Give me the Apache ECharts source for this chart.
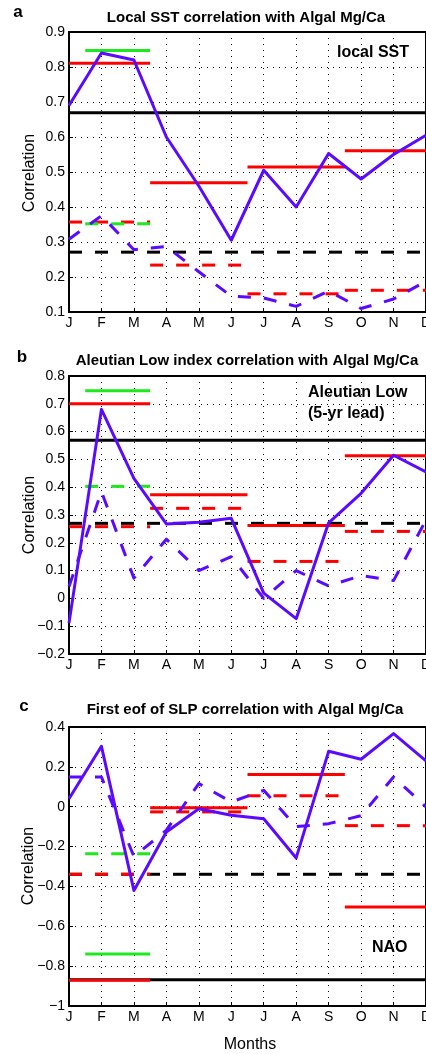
<!DOCTYPE html>
<html>
<head>
    <meta charset="UTF-8">
    <title>Algal Mg/Ca correlations</title>
    <script src="https://cdn.jsdelivr.net/npm/echarts@6/dist/echarts.min.js"></script>
    <style>
        html, body {margin: 0; padding: 0; background: #fff;}
        #main {width: 426px; height: 1054px;}
    </style>
</head>
<body>
<div id="main"></div>
<script type="text/javascript">

    var months = ['J', 'F', 'M', 'A', 'M', 'J', 'J', 'A', 'S', 'O', 'N', 'D'];
    // season boundaries (month index) for the red bars, green bars start half a month later
    var seasonEdges = [0, 2.5, 5.5, 8.5, 11];
    var greenEdges = [0.5, 2.5];

    // a: local SST
    var sstSolid = [0.69, 0.84, 0.82, 0.60, 0.46, 0.305, 0.505, 0.40, 0.553, 0.48, 0.55, 0.605];
    var sstDashed = [0.308, 0.375, 0.278, 0.287, 0.215, 0.145, 0.14, 0.116, 0.16, 0.11, 0.137, 0.188];
    var sstRedSolid = [0.811, 0.469, 0.514, 0.561];
    var sstRedDashed = [0.357, 0.234, 0.152, 0.162];
    var sstGreen = [0.847, 0.352];   // solid, dashed
    var sstSig = [0.669, 0.271];     // solid, dashed

    // b: Aleutian Low
    var alSolid = [-0.089, 0.68, 0.432, 0.268, 0.274, 0.288, 0.019, -0.073, 0.272, 0.378, 0.515, 0.455];
    var alDashed = [0.043, 0.384, 0.073, 0.213, 0.10, 0.15, 0.0, 0.10, 0.045, 0.082, 0.064, 0.282];
    var alRedSolid = [0.70, 0.373, 0.262, 0.513];
    var alRedDashed = [0.258, 0.324, 0.133, 0.241];
    var alGreen = [0.747, 0.403];
    var alSig = [0.569, 0.27];

    // c: first eof of SLP (NAO)
    var naoSolid = [0.04, 0.303, -0.42, -0.127, -0.01, -0.043, -0.06, -0.257, 0.278, 0.238, 0.367, 0.23];
    var naoDashed = [0.149, 0.149, -0.25, -0.118, 0.116, 0.024, 0.082, -0.10, -0.085, -0.045, 0.149, -0.001];
    var naoRedSolid = [-0.871, -0.005, 0.162, -0.503];
    var naoRedDashed = [-0.339, -0.026, 0.055, -0.095];
    var naoGreen = [-0.739, -0.236];
    var naoSig = [-0.868, -0.339];

    var BLUE = '#5a0aff';
    var RED = '#ff0000';
    var GREEN = '#1ee81e';
    var DASH = [13, 13];

    function fmtTick(v) {
        var s = String(Number(v.toFixed(2)));
        return s.replace('-', '\u2212');
    }

    function hline(g, x0, x1, y, color, dashed) {
        return {
            type: 'line', xAxisIndex: g, yAxisIndex: g, silent: true,
            showSymbol: false, symbol: 'none', animation: false,
            data: [[x0, y], [x1, y]],
            lineStyle: {color: color, width: 3, type: dashed ? DASH : 'solid', cap: 'butt'}
        };
    }

    function monthLine(g, vals, dashed) {
        return {
            type: 'line', xAxisIndex: g, yAxisIndex: g, silent: true,
            showSymbol: false, symbol: 'none', animation: false,
            data: vals.map(function (v, i) { return [i, v]; }),
            lineStyle: {color: BLUE, width: 3, type: dashed ? DASH : 'solid', join: 'round'}
        };
    }

    function panelSeries(g, solid, dashed, redS, redD, green, sig) {
        var s = [];
        s.push(hline(g, 0, 11, sig[0], '#000', false));
        s.push(hline(g, 0, 11, sig[1], '#000', true));
        for (var i = 0; i < 4; i++) {
            s.push(hline(g, seasonEdges[i], seasonEdges[i + 1], redS[i], RED, false));
            s.push(hline(g, seasonEdges[i], seasonEdges[i + 1], redD[i], RED, true));
        }
        s.push(hline(g, greenEdges[0], greenEdges[1], green[0], GREEN, false));
        s.push(hline(g, greenEdges[0], greenEdges[1], green[1], GREEN, true));
        s.push(monthLine(g, solid, false));
        s.push(monthLine(g, dashed, true));
        return s;
    }

    var grids = [
        {left: 69, top: 32, width: 357, height: 280},
        {left: 69, top: 376, width: 357, height: 278},
        {left: 69, top: 727, width: 357, height: 279}
    ];
    var yRanges = [[0.1, 0.9, 0.1], [-0.2, 0.8, 0.1], [-1, 0.4, 0.2]];

    var dotted = {show: true, lineStyle: {color: '#000', width: 1, type: [1, 5]}};

    var xAxes = [], yAxes = [];
    for (var g = 0; g < 3; g++) {
        grids[g].show = true;
        grids[g].borderColor = '#000';
        grids[g].borderWidth = 2;
        grids[g].containLabel = false;
        grids[g].outerBoundsMode = 'none';
        xAxes.push({
            type: 'value', gridIndex: g, min: 0, max: 11, interval: 1,
            axisLine: {show: true, onZero: false, lineStyle: {color: '#000', width: 2}},
            axisTick: {show: true, inside: true, length: 4, lineStyle: {color: '#000'}},
            axisLabel: {
                color: '#000', fontSize: 14, fontFamily: 'Liberation Sans', margin: 4,
                hideOverlap: false,
                formatter: function (v) { return months[v] || ''; }
            },
            splitLine: dotted
        });
        yAxes.push({
            type: 'value', gridIndex: g, min: yRanges[g][0], max: yRanges[g][1], interval: yRanges[g][2],
            axisLine: {show: true, onZero: false, lineStyle: {color: '#000', width: 2}},
            axisTick: {show: true, inside: true, length: 4, lineStyle: {color: '#000'}},
            axisLabel: {color: '#000', fontSize: 14, fontFamily: 'Liberation Sans', margin: 4, formatter: fmtTick},
            splitLine: dotted
        });
    }

    var series = []
        .concat(panelSeries(0, sstSolid, sstDashed, sstRedSolid, sstRedDashed, sstGreen, sstSig))
        .concat(panelSeries(1, alSolid, alDashed, alRedSolid, alRedDashed, alGreen, alSig))
        .concat(panelSeries(2, naoSolid, naoDashed, naoRedSolid, naoRedDashed, naoGreen, naoSig));

    function txt(x, y, text, size, bold, align, rot) {
        return {
            type: 'text', x: x, y: y, rotation: rot || 0, silent: true,
            style: {
                text: text, fill: '#000', fontSize: size, fontWeight: bold ? 'bold' : 'normal',
                fontFamily: 'Liberation Sans', align: align || 'center', verticalAlign: 'middle'
            }
        };
    }

    var graphics = [
        txt(18, 12, 'a', 17, true),
        txt(22, 357, 'b', 17, true),
        txt(24, 706, 'c', 17, true),
        txt(246, 18, 'Local SST correlation with Algal Mg/Ca', 15, true),
        txt(247, 361, 'Aleutian Low index correlation with Algal Mg/Ca', 15, true),
        txt(245, 710, 'First eof of SLP correlation with Algal Mg/Ca', 15, true),
        txt(30, 173, 'Correlation', 16, false, 'center', Math.PI / 2),
        txt(30, 515, 'Correlation', 16, false, 'center', Math.PI / 2),
        txt(29, 866, 'Correlation', 16, false, 'center', Math.PI / 2),
        txt(250, 1045, 'Months', 16, false),
        txt(337, 53, 'local SST', 16, true, 'left'),
        txt(308, 393, 'Aleutian Low', 16, true, 'left'),
        txt(308, 414, '(5-yr lead)', 16, true, 'left'),
        txt(372, 948, 'NAO', 16, true, 'left')
    ];

    var myChart = echarts.init(document.getElementById('main'), null, {renderer: 'canvas'});
    var option = {
        animation: false,
        backgroundColor: '#fff',
        grid: grids,
        xAxis: xAxes,
        yAxis: yAxes,
        series: series,
        graphic: graphics
    };
    myChart.setOption(option);

</script>
</body>
</html>
